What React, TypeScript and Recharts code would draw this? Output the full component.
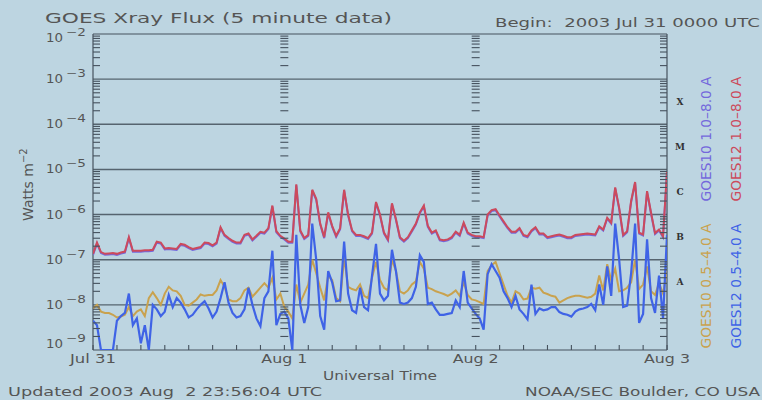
import React from "react";
import { LineChart, Line, XAxis, YAxis, ReferenceLine } from "recharts";

// 30-minute samples, hours since 2003 Jul 31 00:00 UTC (0 .. 72)
const sampleStepHours = 0.5;

// log10 of flux (W m^-2)
const goes12LongLog = [
  -6.87, -6.62, -6.83, -6.87, -6.86, -6.85, -6.87, -6.84, -6.82, -6.50, -6.80, -6.80,
  -6.80, -6.79, -6.79, -6.78, -6.60, -6.62, -6.75, -6.74, -6.75, -6.76, -6.65, -6.67,
  -6.72, -6.76, -6.74, -6.72, -6.62, -6.63, -6.68, -6.62, -6.28, -6.45, -6.52, -6.58,
  -6.62, -6.62, -6.45, -6.42, -6.55, -6.47, -6.38, -6.40, -6.30, -5.80, -6.37, -6.47,
  -6.53, -6.60, -6.60, -5.33, -6.35, -6.52, -6.45, -5.45, -5.65, -6.20, -6.50, -5.95,
  -6.25, -6.47, -6.30, -5.45, -6.00, -6.35, -6.45, -6.45, -6.48, -6.52, -6.40, -5.72,
  -6.00, -6.40, -6.55, -5.75, -6.10, -6.50, -6.58, -6.50, -6.35, -6.20, -5.95, -5.80,
  -6.25, -6.40, -6.35, -6.55, -6.57, -6.55, -6.50, -6.38, -6.45, -6.18, -6.40, -6.45,
  -6.48, -6.48, -6.50, -6.00, -5.90, -5.88, -6.02, -6.15, -6.28, -6.38, -6.38, -6.30,
  -6.45, -6.48, -6.35, -6.28, -6.42, -6.42, -6.50, -6.48, -6.46, -6.44, -6.47, -6.50,
  -6.50, -6.45, -6.44, -6.43, -6.42, -6.43, -6.44, -6.26, -6.33, -6.07, -6.18, -5.40,
  -5.85, -6.45, -6.37, -5.70, -5.28, -6.40, -6.44, -5.48, -5.96, -6.41, -6.33, -6.48,
  -5.05,
];

const goes10LongLog = [
  -6.87, -6.62, -6.83, -6.87, -6.86, -6.85, -6.87, -6.84, -6.82, -6.50, -6.80, -6.80,
  -6.80, -6.79, -6.79, -6.78, -6.60, -6.62, -6.75, -6.74, -6.75, -6.76, -6.65, -6.67,
  -6.72, -6.76, -6.74, -6.72, -6.62, -6.63, -6.68, -6.62, -6.28, -6.45, -6.52, -6.58,
  -6.62, -6.62, -6.45, -6.42, -6.55, -6.47, -6.38, -6.40, -6.30, -5.80, -6.37, -6.47,
  -6.53, -6.60, -6.60, -5.33, -6.35, -6.52, -6.45, -5.45, -5.65, -6.20, -6.50, -5.95,
  -6.25, -6.47, -6.30, -5.45, -6.00, -6.35, -6.45, -6.45, -6.48, -6.52, -6.40, -5.72,
  -6.00, -6.40, -6.55, -5.75, -6.10, -6.50, -6.58, -6.50, -6.35, -6.20, -5.95, -5.80,
  -6.25, -6.40, -6.35, -6.55, -6.57, -6.55, -6.50, -6.38, -6.45, -6.18, -6.40, -6.45,
  -6.48, -6.48, -6.50, -6.00, -5.90, -5.88, -6.02, -6.15, -6.28, -6.38, -6.38, -6.30,
  -6.45, -6.48, -6.35, -6.28, -6.42, -6.42, -6.50, -6.48, -6.46, -6.44, -6.47, -6.50,
  -6.50, -6.45, -6.44, -6.43, -6.42, -6.43, -6.44, -6.26, -6.33, -6.07, -6.18, -5.40,
  -5.85, -6.45, -6.37, -5.70, -5.28, -6.40, -6.44, -5.48, -5.96, -6.41, -6.33, -6.48,
  -5.05,
];

const goes10ShortLog = [
  -8.08, -8.00, -8.15, -8.18, -8.18, -8.22, -8.28, -8.26, -8.22, -8.05, -8.25, -8.15,
  -8.10, -8.25, -7.85, -7.72, -7.85, -8.00, -7.75, -7.60, -7.68, -7.70, -7.80, -8.00,
  -8.02, -7.95, -7.88, -7.77, -7.80, -7.78, -7.78, -7.68, -7.45, -7.60, -7.88, -7.92,
  -7.92, -7.85, -7.68, -7.62, -7.82, -7.72, -7.62, -7.52, -7.62, -7.40, -7.88, -7.75,
  -8.05, -8.15, -8.30, -7.55, -7.95, -7.75, -7.55, -7.00, -7.30, -7.62, -7.90, -7.35,
  -7.45, -7.85, -7.92, -6.95, -7.60, -7.65, -7.68, -7.55, -7.80, -7.85, -7.40, -7.05,
  -7.45, -7.62, -7.68, -7.00, -7.25, -7.70, -7.75, -7.68, -7.55, -7.48, -7.05, -7.20,
  -7.62, -7.65, -7.70, -7.73, -7.76, -7.80, -7.75, -7.68, -7.80, -7.50, -7.78, -7.88,
  -7.90, -7.94, -7.98, -7.25, -7.12, -7.05, -7.30, -7.55, -7.80, -7.95, -7.70, -7.75,
  -7.88, -7.86, -7.62, -7.64, -7.62, -7.73, -7.76, -7.80, -7.82, -7.95, -7.90, -7.85,
  -7.82, -7.80, -7.80, -7.82, -7.84, -7.82, -7.75, -7.35, -7.68, -7.10, -7.45, -7.20,
  -7.70, -7.68, -7.62, -7.50, -7.00, -7.65, -7.55, -7.15, -7.70, -7.78, -7.52, -7.75,
  -7.25,
];

const goes12ShortLog = [
  -8.35, -8.45, -9.00, -9.00, -9.00, -9.00, -8.35, -8.25, -8.18, -7.75, -8.45, -8.30,
  -8.85, -8.45, -9.00, -8.00, -8.10, -8.25, -8.15, -7.78, -8.05, -7.85, -7.95, -8.10,
  -8.28, -8.22, -8.10, -8.00, -7.92, -8.08, -8.28, -8.15, -7.85, -7.50, -7.95, -8.18,
  -8.28, -8.25, -8.10, -7.62, -8.00, -8.30, -8.47, -7.85, -7.70, -6.80, -8.45, -8.20,
  -8.15, -8.30, -9.00, -6.45, -8.00, -8.40, -8.05, -6.20, -7.00, -8.25, -8.55, -7.25,
  -7.50, -7.92, -7.90, -6.60, -7.75, -8.12, -8.18, -7.62, -8.05, -8.12, -7.35, -6.65,
  -7.75, -7.90, -7.80, -6.78, -7.25, -7.95, -7.98, -7.95, -7.85, -7.60, -6.90, -7.05,
  -7.98, -7.95, -8.10, -8.22, -8.22, -8.20, -8.18, -7.90, -8.05, -7.25, -7.95, -8.08,
  -8.20, -8.30, -8.55, -7.32, -7.10, -7.25, -7.40, -7.70, -7.85, -8.05, -7.80, -8.10,
  -8.20, -8.32, -7.55, -8.20, -8.08, -8.12, -8.10, -8.05, -8.05, -8.16, -8.20, -8.22,
  -8.26, -8.15, -8.10, -8.08, -8.05, -7.98, -8.12, -7.55, -8.00, -7.15, -7.80, -6.20,
  -7.00, -8.05, -8.02, -7.30, -6.20, -8.40, -8.20, -6.55, -7.85, -8.18, -7.35, -8.30,
  -6.45,
];

const dayTicks = [0, 24, 48, 72];
const innerDayAxes = [24, 48];
const dayLabels = ["Jul 31", "Aug 1", "Aug 2", "Aug 3"];
const decadeExponents = [-9, -8, -7, -6, -5, -4, -3, -2];
const classLetters = ["A", "B", "C", "M", "X"];
const classExponents = [-7.5, -6.5, -5.5, -4.5, -3.5];

const legendLong = [
  { text: "GOES10 1.0\u20138.0 A", color: "#7468dc" },
  { text: "GOES12 1.0\u20138.0 A", color: "#cc4a5c" },
];
const legendShort = [
  { text: "GOES10 0.5\u20134.0 A", color: "#c9a24e" },
  { text: "GOES12 0.5\u20134.0 A", color: "#3f63e6" },
];

const titleText = "GOES Xray Flux (5 minute data)";
const beginText = "Begin:  2003 Jul 31 0000 UTC";
const updatedText = "Updated 2003 Aug  2 23:56:04 UTC";
const creditText = "NOAA/SEC Boulder, CO USA";
const xTitle = "Universal Time";

const BG = "#bdd5e1";
const TEXT = "#555555";
const AXIS = "#46525e";
const GRID = "#56646f";
const FONT = "'DejaVu Sans', sans-serif";
const RED = "#cc4a5c";
const PURPLE = "#7468dc";
const GOLD = "#c9a24e";
const BLUE = "#3f63e6";

const data = goes12LongLog.map((_, i) => ({
  t: i * sampleStepHours,
  g12l: Math.pow(10, goes12LongLog[i]),
  g10l: Math.pow(10, goes10LongLog[i]),
  g10s: Math.pow(10, goes10ShortLog[i]),
  g12s: Math.pow(10, goes12ShortLog[i]),
}));

const decadeValues = decadeExponents.map((e) => Math.pow(10, e));
const classValues = classExponents.map((e) => Math.pow(10, e));
const minorValues = decadeExponents
  .slice(0, -1)
  .flatMap((e) => [2, 3, 4, 5, 6, 7, 8, 9].map((m) => m * Math.pow(10, e)));
const threeHourTicks = Array.from({ length: 25 }, (_, i) => i * 3);

const leftTicks = [...decadeValues, ...minorValues].sort((a, b) => a - b);
const rightTicks = [...classValues, ...minorValues].sort((a, b) => a - b);
const dayAxisTickData = innerDayAxes.flatMap((d) => minorValues.map((v) => ({ t: d, mark: v })));

const SIDE_LEN = 7;
const DAY_HALF = 4;
const EDGE_LEN = 5;

const isDecade = (v: number) => decadeValues.some((d) => Math.abs(d - v) / d < 1e-6);
const classIndex = (v: number) => classValues.findIndex((c) => Math.abs(c - v) / c < 1e-6);

const HMark = ({ x, y, w }: { x: number; y: number; w: number }) => (
  <rect x={x} y={y - 0.5} width={w} height={1.1} fill={AXIS} stroke="none" />
);
const VMark = ({ x, y, h }: { x: number; y: number; h: number }) => (
  <rect x={x - 0.5} y={y} width={1.1} height={h} fill={AXIS} stroke="none" />
);

const LeftTick = (props: any) => {
  const { x, y, payload } = props;
  const v = payload.value;
  if (!isDecade(v)) {
    return <HMark x={x} y={y} w={SIDE_LEN} />;
  }
  const e = Math.round(Math.log10(v));
  const cy = Math.min(Math.max(y, 37.5), 344);
  return (
    <g>
      <text x={x - 47} y={cy + 4} fontSize={12} fill={TEXT} fontFamily={FONT} textLength={17} lengthAdjust="spacingAndGlyphs">
        10
      </text>
      <text x={x - 27} y={cy - 2} fontSize={10} fill={TEXT} fontFamily={FONT} textLength={20} lengthAdjust="spacingAndGlyphs">
        {"\u2212" + Math.abs(e)}
      </text>
    </g>
  );
};

const RightTick = (props: any) => {
  const { x, y, payload } = props;
  const idx = classIndex(payload.value);
  if (idx < 0) {
    return <HMark x={x - SIDE_LEN} y={y} w={SIDE_LEN} />;
  }
  return (
    <text x={x + 13} y={y + 3} fontSize={9} fontWeight="bold" fill="#333" fontFamily="'DejaVu Serif', serif" textAnchor="middle">
      {classLetters[idx]}
    </text>
  );
};

const BottomTick = (props: any) => {
  const { x, y, payload } = props;
  const idx = dayTicks.indexOf(payload.value);
  return (
    <g>
      <VMark x={x} y={y - EDGE_LEN} h={EDGE_LEN} />
      {idx >= 0 && (
        <text x={x} y={y + 13} fontSize={13} fill={TEXT} fontFamily={FONT} textAnchor="middle" textLength={46} lengthAdjust="spacingAndGlyphs">
          {dayLabels[idx]}
        </text>
      )}
    </g>
  );
};

const TopTick = (props: any) => {
  const { x, y } = props;
  return <VMark x={x} y={y} h={EDGE_LEN} />;
};

const DayAxisMark = (props: any) => {
  const { cx, cy } = props;
  if (cx == null || cy == null || isNaN(cx) || isNaN(cy)) return <g />;
  return <HMark x={cx - DAY_HALF} y={cy} w={DAY_HALF * 2} />;
};

export default function App() {
  return (
    <div style={{ position: "absolute", left: 0, top: 0, width: 762, height: 400, background: BG }}>
      <style>{".shift-down { transform: translateY(1px); }"}</style>
      <LineChart width={762} height={400} data={data} margin={{ top: 34, right: 65, bottom: 20, left: 33 }}>
        <XAxis
          dataKey="t"
          type="number"
          domain={[0, 72]}
          ticks={threeHourTicks}
          tick={<BottomTick />}
          axisLine={false}
          tickLine={false}
          tickSize={0}
          tickMargin={0}
          height={30}
          interval={0}
          allowDataOverflow
        />
        <XAxis
          xAxisId="top"
          orientation="top"
          dataKey="t"
          type="number"
          domain={[0, 72]}
          ticks={threeHourTicks}
          tick={<TopTick />}
          axisLine={false}
          tickLine={false}
          tickSize={0}
          tickMargin={0}
          height={0}
          interval={0}
          allowDataOverflow
        />
        <YAxis
          scale="log"
          domain={[1e-9, 1e-2]}
          ticks={leftTicks}
          tick={<LeftTick />}
          axisLine={false}
          tickLine={false}
          tickSize={0}
          tickMargin={0}
          width={60}
          allowDataOverflow
          interval={0}
        />
        <YAxis
          yAxisId="cls"
          orientation="right"
          scale="log"
          domain={[1e-9, 1e-2]}
          ticks={rightTicks}
          tick={<RightTick />}
          axisLine={false}
          tickLine={false}
          tickSize={0}
          tickMargin={0}
          width={30}
          allowDataOverflow
          interval={0}
        />

        {decadeValues.slice(1, -1).map((v) => (
          <ReferenceLine key={"g" + v} y={v} stroke={GRID} strokeWidth={1.4} />
        ))}

        <ReferenceLine x={0} stroke={AXIS} strokeWidth={1.2} ifOverflow="visible" />
        <ReferenceLine x={72} stroke={AXIS} strokeWidth={1.2} ifOverflow="visible" />
        <ReferenceLine y={1e-2} stroke={AXIS} strokeWidth={1.2} ifOverflow="visible" />
        <ReferenceLine y={1e-9} stroke={AXIS} strokeWidth={1.2} ifOverflow="visible" />

        <Line dataKey="g10s" stroke={GOLD} strokeWidth={2} dot={false} isAnimationActive={false} type="linear" />
        <Line dataKey="g12s" stroke={BLUE} strokeWidth={2.2} dot={false} isAnimationActive={false} type="linear" />
        <Line dataKey="g10l" stroke={PURPLE} strokeWidth={2} dot={false} isAnimationActive={false} type="linear" className="shift-down" />
        <Line dataKey="g12l" stroke={RED} strokeWidth={2} dot={false} isAnimationActive={false} type="linear" />

        <Line
          data={dayAxisTickData}
          dataKey="mark"
          stroke="none"
          dot={(p: any) => <DayAxisMark key={"dm" + p.index} {...p} />}
          activeDot={false}
          isAnimationActive={false}
          legendType="none"
        />
      </LineChart>

      <svg width={762} height={400} style={{ position: "absolute", left: 0, top: 0, pointerEvents: "none" }}>
        <text x={45} y={23} fontSize={14} fill={TEXT} fontFamily={FONT} textLength={347} lengthAdjust="spacingAndGlyphs" style={{ whiteSpace: "pre" }}>
          {titleText}
        </text>
        <text x={495} y={27} fontSize={13} fill={TEXT} fontFamily={FONT} textLength={265} lengthAdjust="spacingAndGlyphs" style={{ whiteSpace: "pre" }}>
          {beginText}
        </text>
        <text x={380} y={380} fontSize={13} fill={TEXT} fontFamily={FONT} textAnchor="middle" textLength={114} lengthAdjust="spacingAndGlyphs">
          {xTitle}
        </text>
        <text x={8} y={396} fontSize={13} fill={TEXT} fontFamily={FONT} textLength={314} lengthAdjust="spacingAndGlyphs" style={{ whiteSpace: "pre" }}>
          {updatedText}
        </text>
        <text x={525} y={396} fontSize={13} fill={TEXT} fontFamily={FONT} textLength={235} lengthAdjust="spacingAndGlyphs">
          {creditText}
        </text>
        <text transform="translate(33,221) rotate(-90)" fontSize={14} fill={TEXT} fontFamily={FONT}>
          <tspan>Watts m</tspan>
          <tspan dy={-6} fontSize={10}>{"\u22122"}</tspan>
        </text>
        {legendLong.map((item, i) => (
          <text
            key={item.text}
            transform={`translate(${711 + i * 30},139) rotate(-90)`}
            fontSize={14}
            fill={item.color}
            fontFamily={FONT}
            textAnchor="middle"
            textLength={125}
            lengthAdjust="spacingAndGlyphs"
          >
            {item.text}
          </text>
        ))}
        {legendShort.map((item, i) => (
          <text
            key={item.text}
            transform={`translate(${711 + i * 30},286) rotate(-90)`}
            fontSize={14}
            fill={item.color}
            fontFamily={FONT}
            textAnchor="middle"
            textLength={125}
            lengthAdjust="spacingAndGlyphs"
          >
            {item.text}
          </text>
        ))}
      </svg>
    </div>
  );
}
